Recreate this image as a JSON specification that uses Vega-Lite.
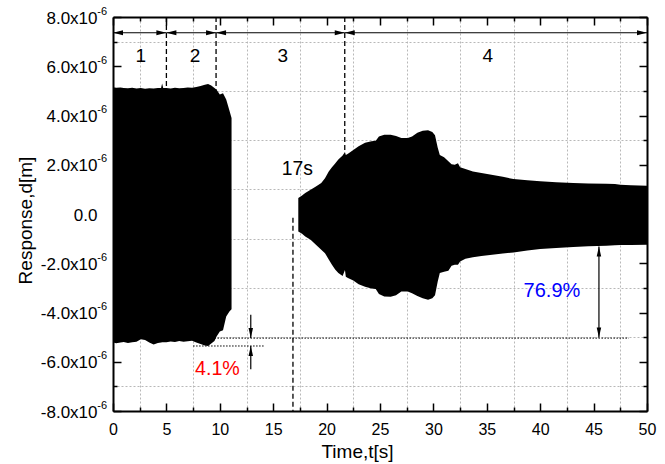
{
  "$schema": "https://vega.github.io/schema/vega-lite/v6.json",
  "width": 534,
  "height": 394,
  "autosize": {"type": "none"},
  "padding": {"left": 113, "top": 17, "right": 18, "bottom": 53},
  "background": "white",
  "config": {
    "view": {"stroke": null},
    "font": "Liberation Sans",
    "axis": {
      "domainColor": "black",
      "domainWidth": 2,
      "tickColor": "black",
      "tickWidth": 1.5,
      "labelColor": "black",
      "labelFont": "Liberation Sans",
      "titleFont": "Liberation Sans",
      "titleFontWeight": "normal",
      "titleColor": "black",
      "labelOverlap": false,
      "labelFlush": false,
      "gridColor": "#b8b8b8",
      "gridDash": [2, 2],
      "gridWidth": 1
    }
  },
  "datasets": {
    "envelope": [
      {"t": 0.0, "upper": 5.15e-6, "lower": -5.22e-6, "burst": "A"},
      {"t": 0.3, "upper": 5.13e-6, "lower": -5.25e-6, "burst": "A"},
      {"t": 0.7, "upper": 5.14e-6, "lower": -5.22e-6, "burst": "A"},
      {"t": 1.0, "upper": 5.12e-6, "lower": -5.2e-6, "burst": "A"},
      {"t": 1.4, "upper": 5.11e-6, "lower": -5.24e-6, "burst": "A"},
      {"t": 1.8, "upper": 5.13e-6, "lower": -5.21e-6, "burst": "A"},
      {"t": 2.2, "upper": 5.1e-6, "lower": -5.19e-6, "burst": "A"},
      {"t": 2.6, "upper": 5.12e-6, "lower": -5.09e-6, "burst": "A"},
      {"t": 3.0, "upper": 5.09e-6, "lower": -5.12e-6, "burst": "A"},
      {"t": 3.4, "upper": 5.11e-6, "lower": -5.22e-6, "burst": "A"},
      {"t": 3.8, "upper": 5.1e-6, "lower": -5.3e-6, "burst": "A"},
      {"t": 4.2, "upper": 5.12e-6, "lower": -5.24e-6, "burst": "A"},
      {"t": 4.5, "upper": 5.12e-6, "lower": -5.22e-6, "burst": "A"},
      {"t": 4.6, "upper": 5.3e-6, "lower": -5.21e-6, "burst": "A"},
      {"t": 4.7, "upper": 5.12e-6, "lower": -5.21e-6, "burst": "A"},
      {"t": 5.0, "upper": 5.12e-6, "lower": -5.21e-6, "burst": "A"},
      {"t": 5.4, "upper": 5.1e-6, "lower": -5.18e-6, "burst": "A"},
      {"t": 5.8, "upper": 5.13e-6, "lower": -5.2e-6, "burst": "A"},
      {"t": 6.2, "upper": 5.11e-6, "lower": -5.16e-6, "burst": "A"},
      {"t": 6.6, "upper": 5.12e-6, "lower": -5.19e-6, "burst": "A"},
      {"t": 7.0, "upper": 5.14e-6, "lower": -5.17e-6, "burst": "A"},
      {"t": 7.4, "upper": 5.13e-6, "lower": -5.15e-6, "burst": "A"},
      {"t": 7.8, "upper": 5.16e-6, "lower": -5.22e-6, "burst": "A"},
      {"t": 8.2, "upper": 5.2e-6, "lower": -5.28e-6, "burst": "A"},
      {"t": 8.6, "upper": 5.25e-6, "lower": -5.34e-6, "burst": "A"},
      {"t": 8.9, "upper": 5.28e-6, "lower": -5.36e-6, "burst": "A"},
      {"t": 9.2, "upper": 5.22e-6, "lower": -5.26e-6, "burst": "A"},
      {"t": 9.5, "upper": 5.12e-6, "lower": -5.16e-6, "burst": "A"},
      {"t": 9.7, "upper": 5.05e-6, "lower": -4.97e-6, "burst": "A"},
      {"t": 10.0, "upper": 4.85e-6, "lower": -4.77e-6, "burst": "A"},
      {"t": 10.3, "upper": 4.9e-6, "lower": -4.72e-6, "burst": "A"},
      {"t": 10.6, "upper": 4.65e-6, "lower": -4.16e-6, "burst": "A"},
      {"t": 10.9, "upper": 4.2e-6, "lower": -3.96e-6, "burst": "A"},
      {"t": 11.1, "upper": 3.9e-6, "lower": -3.87e-6, "burst": "A"},
      {"t": 17.35, "upper": 0.65e-6, "lower": -0.71e-6, "burst": "B"},
      {"t": 17.7, "upper": 0.75e-6, "lower": -0.8e-6, "burst": "B"},
      {"t": 18.0, "upper": 0.85e-6, "lower": -0.91e-6, "burst": "B"},
      {"t": 18.5, "upper": 0.98e-6, "lower": -1.05e-6, "burst": "B"},
      {"t": 19.0, "upper": 1.12e-6, "lower": -1.25e-6, "burst": "B"},
      {"t": 19.5, "upper": 1.26e-6, "lower": -1.45e-6, "burst": "B"},
      {"t": 19.85, "upper": 1.45e-6, "lower": -1.59e-6, "burst": "B"},
      {"t": 20.2, "upper": 1.73e-6, "lower": -1.85e-6, "burst": "B"},
      {"t": 20.5, "upper": 1.9e-6, "lower": -2.06e-6, "burst": "B"},
      {"t": 20.8, "upper": 2.05e-6, "lower": -2.25e-6, "burst": "B"},
      {"t": 21.1, "upper": 2.21e-6, "lower": -2.4e-6, "burst": "B"},
      {"t": 21.5, "upper": 2.38e-6, "lower": -2.52e-6, "burst": "B"},
      {"t": 21.72, "upper": 2.52e-6, "lower": -2.27e-6, "burst": "B"},
      {"t": 21.8, "upper": 2.4e-6, "lower": -2.55e-6, "burst": "B"},
      {"t": 22.0, "upper": 2.45e-6, "lower": -2.6e-6, "burst": "B"},
      {"t": 22.5, "upper": 2.6e-6, "lower": -2.7e-6, "burst": "B"},
      {"t": 23.0, "upper": 2.75e-6, "lower": -2.85e-6, "burst": "B"},
      {"t": 23.6, "upper": 2.89e-6, "lower": -2.95e-6, "burst": "B"},
      {"t": 24.2, "upper": 2.95e-6, "lower": -3.03e-6, "burst": "B"},
      {"t": 24.6, "upper": 2.97e-6, "lower": -3.05e-6, "burst": "B"},
      {"t": 24.9, "upper": 3.15e-6, "lower": -3.25e-6, "burst": "B"},
      {"t": 25.4, "upper": 3.22e-6, "lower": -3.35e-6, "burst": "B"},
      {"t": 26.0, "upper": 3.22e-6, "lower": -3.36e-6, "burst": "B"},
      {"t": 26.5, "upper": 3.17e-6, "lower": -3.3e-6, "burst": "B"},
      {"t": 27.0, "upper": 3.09e-6, "lower": -3.15e-6, "burst": "B"},
      {"t": 27.6, "upper": 3.09e-6, "lower": -3.15e-6, "burst": "B"},
      {"t": 28.0, "upper": 3.15e-6, "lower": -3.22e-6, "burst": "B"},
      {"t": 28.5, "upper": 3.3e-6, "lower": -3.33e-6, "burst": "B"},
      {"t": 29.0, "upper": 3.38e-6, "lower": -3.42e-6, "burst": "B"},
      {"t": 29.5, "upper": 3.4e-6, "lower": -3.48e-6, "burst": "B"},
      {"t": 29.9, "upper": 3.33e-6, "lower": -3.42e-6, "burst": "B"},
      {"t": 30.15, "upper": 3.2e-6, "lower": -3.3e-6, "burst": "B"},
      {"t": 30.4, "upper": 2.7e-6, "lower": -2.75e-6, "burst": "B"},
      {"t": 30.6, "upper": 2.4e-6, "lower": -2.4e-6, "burst": "B"},
      {"t": 31.0, "upper": 2.3e-6, "lower": -2.35e-6, "burst": "B"},
      {"t": 31.4, "upper": 2.14e-6, "lower": -2.3e-6, "burst": "B"},
      {"t": 31.7, "upper": 2.02e-6, "lower": -2.1e-6, "burst": "B"},
      {"t": 32.0, "upper": 2.0e-6, "lower": -2.06e-6, "burst": "B"},
      {"t": 32.3, "upper": 2.06e-6, "lower": -2.06e-6, "burst": "B"},
      {"t": 32.5, "upper": 1.9e-6, "lower": -1.93e-6, "burst": "B"},
      {"t": 33.0, "upper": 1.83e-6, "lower": -1.82e-6, "burst": "B"},
      {"t": 33.7, "upper": 1.73e-6, "lower": -1.76e-6, "burst": "B"},
      {"t": 34.5, "upper": 1.67e-6, "lower": -1.71e-6, "burst": "B"},
      {"t": 35.3, "upper": 1.6e-6, "lower": -1.66e-6, "burst": "B"},
      {"t": 36.5, "upper": 1.51e-6, "lower": -1.6e-6, "burst": "B"},
      {"t": 37.5, "upper": 1.42e-6, "lower": -1.56e-6, "burst": "B"},
      {"t": 38.8, "upper": 1.37e-6, "lower": -1.48e-6, "burst": "B"},
      {"t": 40.0, "upper": 1.33e-6, "lower": -1.42e-6, "burst": "B"},
      {"t": 41.5, "upper": 1.29e-6, "lower": -1.38e-6, "burst": "B"},
      {"t": 43.1, "upper": 1.26e-6, "lower": -1.34e-6, "burst": "B"},
      {"t": 44.5, "upper": 1.24e-6, "lower": -1.31e-6, "burst": "B"},
      {"t": 46.2, "upper": 1.23e-6, "lower": -1.29e-6, "burst": "B"},
      {"t": 47.0, "upper": 1.22e-6, "lower": -1.27e-6, "burst": "B"},
      {"t": 47.5, "upper": 1.19e-6, "lower": -1.26e-6, "burst": "B"},
      {"t": 48.5, "upper": 1.17e-6, "lower": -1.26e-6, "burst": "B"},
      {"t": 50.0, "upper": 1.15e-6, "lower": -1.25e-6, "burst": "B"}
    ],
    "levels": [
      {"t0": 9.5, "t1": 48.3, "v": -5.04e-6},
      {"t0": 7.5, "t1": 14.2, "v": -5.36e-6}
    ],
    "boundaries": [
      {"t": 5.0, "v0": 8e-6, "v1": 5.12e-6},
      {"t": 9.65, "v0": 8e-6, "v1": 5.05e-6},
      {"t": 21.7, "v0": 8e-6, "v1": 2.5e-6},
      {"t": 16.85, "v0": -0.15e-6, "v1": -8e-6}
    ],
    "phases": [
      {"t0": 0, "t1": 5.0, "v": 7.36e-6},
      {"t0": 5.0, "t1": 9.65, "v": 7.36e-6},
      {"t0": 9.65, "t1": 21.7, "v": 7.36e-6},
      {"t0": 21.7, "t1": 50, "v": 7.36e-6}
    ],
    "shafts": [
      {"t": 12.9, "v0": -4.09e-6, "v1": -5.04e-6},
      {"t": 12.9, "v0": -6.3e-6, "v1": -5.36e-6},
      {"t": 45.5, "v0": -1.32e-6, "v1": -5.02e-6}
    ],
    "heads": [
      {"t": 0, "v": 7.36e-6, "dir": "left"},
      {"t": 5.0, "v": 7.36e-6, "dir": "right"},
      {"t": 5.0, "v": 7.36e-6, "dir": "left"},
      {"t": 9.65, "v": 7.36e-6, "dir": "right"},
      {"t": 9.65, "v": 7.36e-6, "dir": "left"},
      {"t": 21.7, "v": 7.36e-6, "dir": "right"},
      {"t": 21.7, "v": 7.36e-6, "dir": "left"},
      {"t": 50, "v": 7.36e-6, "dir": "right"},
      {"t": 12.9, "v": -5.04e-6, "dir": "down"},
      {"t": 12.9, "v": -5.36e-6, "dir": "up"},
      {"t": 45.5, "v": -1.32e-6, "dir": "up"},
      {"t": 45.5, "v": -5.02e-6, "dir": "down"}
    ],
    "notes": [
      {"t": 2.6, "v": 6.42e-6, "text": "1", "kind": "phase"},
      {"t": 7.68, "v": 6.42e-6, "text": "2", "kind": "phase"},
      {"t": 15.9, "v": 6.42e-6, "text": "3", "kind": "phase"},
      {"t": 35.1, "v": 6.42e-6, "text": "4", "kind": "phase"},
      {"t": 17.27, "v": 1.84e-6, "text": "17s", "kind": "time"},
      {"t": 9.78, "v": -6.29e-6, "text": "4.1%", "kind": "drop"},
      {"t": 41.1, "v": -3.11e-6, "text": "76.9%", "kind": "recovery"}
    ]
  },
  "resolve": {"axis": {"x": "independent", "y": "independent"}},
  "layer": [
    {
      "data": {"name": "envelope"},
      "mark": {"type": "area", "color": "black"},
      "encoding": {
        "x": {
          "field": "t", "type": "quantitative",
          "scale": {"domain": [0, 50], "nice": false, "zero": false},
          "axis": {
            "orient": "bottom",
            "values": [0, 2.5, 5, 7.5, 10, 12.5, 15, 17.5, 20, 22.5, 25, 27.5, 30, 32.5, 35, 37.5, 40, 42.5, 45, 47.5, 50],
            "tickSize": {"condition": {"test": "datum.value % 5 === 0", "value": -8}, "value": -4},
            "labelExpr": "datum.value % 5 === 0 ? format(datum.value, 'd') : ''",
            "labelFontSize": 16,
            "labelPadding": 18,
            "grid": true,
            "gridOpacity": {"condition": {"test": "datum.value % 5 === 0", "value": 0}, "value": 1},
            "title": "Time,t[s]",
            "titleFontSize": 19,
            "titleX": 244,
            "titleY": 46.5,
            "titleAlign": "center",
            "titleBaseline": "alphabetic"
          }
        },
        "y": {
          "field": "upper", "type": "quantitative",
          "scale": {"domain": [-8e-6, 8e-6], "nice": false, "zero": false},
          "axis": {
            "orient": "left",
            "values": [-8e-6, -7e-6, -6e-6, -5e-6, -4e-6, -3e-6, -2e-6, -1e-6, 0, 1e-6, 2e-6, 3e-6, 4e-6, 5e-6, 6e-6, 7e-6, 8e-6],
            "tickSize": {"condition": {"test": "round(datum.value * 1e6) % 2 === 0", "value": -8}, "value": -4},
            "labelExpr": "round(datum.value * 1e6) % 2 !== 0 ? '' : (round(datum.value * 1e6) === 0 ? '0.0' : (datum.value < 0 ? '-' : '') + format(abs(datum.value * 1e6), '.1f') + 'x10')",
            "labelFontSize": 17,
            "labelPadding": 24,
            "labelOffset": 1,
            "grid": true,
            "gridOpacity": {"condition": {"test": "round(datum.value * 1e6) % 2 === 0", "value": 0}, "value": 1},
            "title": "Response,d[m]",
            "titleFontSize": 19,
            "titleAngle": 270,
            "titleX": -81.5,
            "titleY": 203,
            "titleAlign": "center",
            "titleBaseline": "alphabetic"
          }
        },
        "y2": {"field": "lower"},
        "detail": {"field": "burst"}
      }
    },
    {
      "data": {"name": "levels"},
      "mark": {"type": "rule", "color": "black", "strokeWidth": 1, "strokeDash": [1.5, 1.5]},
      "encoding": {
        "x": {
          "field": "t0", "type": "quantitative",
          "scale": {"domain": [0, 50], "nice": false, "zero": false},
          "axis": {
            "orient": "top",
            "values": [0, 2.5, 5, 7.5, 10, 12.5, 15, 17.5, 20, 22.5, 25, 27.5, 30, 32.5, 35, 37.5, 40, 42.5, 45, 47.5, 50],
            "tickSize": {"condition": {"test": "datum.value % 5 === 0", "value": -8}, "value": -4},
            "labels": false,
            "grid": false,
            "title": null
          }
        },
        "x2": {"field": "t1"},
        "y": {
          "field": "v", "type": "quantitative",
          "scale": {"domain": [-8e-6, 8e-6], "nice": false, "zero": false},
          "axis": {
            "orient": "right",
            "values": [-8e-6, -7e-6, -6e-6, -5e-6, -4e-6, -3e-6, -2e-6, -1e-6, 0, 1e-6, 2e-6, 3e-6, 4e-6, 5e-6, 6e-6, 7e-6, 8e-6],
            "tickSize": {"condition": {"test": "round(datum.value * 1e6) % 2 === 0", "value": -8}, "value": -4},
            "labels": false,
            "grid": false,
            "title": null
          }
        }
      }
    },
    {
      "data": {"name": "boundaries"},
      "mark": {"type": "rule", "color": "black", "strokeWidth": 1.3, "strokeDash": [5, 3]},
      "encoding": {
        "x": {"field": "t", "type": "quantitative", "scale": {"domain": [0, 50], "nice": false, "zero": false}, "axis": null},
        "y": {"field": "v0", "type": "quantitative", "scale": {"domain": [-8e-6, 8e-6], "nice": false, "zero": false}, "axis": null},
        "y2": {"field": "v1"}
      }
    },
    {
      "data": {"name": "phases"},
      "mark": {"type": "rule", "color": "black", "strokeWidth": 1.2},
      "encoding": {
        "x": {"field": "t0", "type": "quantitative", "scale": {"domain": [0, 50], "nice": false, "zero": false}, "axis": null},
        "x2": {"field": "t1"},
        "y": {"field": "v", "type": "quantitative", "scale": {"domain": [-8e-6, 8e-6], "nice": false, "zero": false}, "axis": null}
      }
    },
    {
      "data": {"name": "shafts"},
      "mark": {"type": "rule", "color": "black", "strokeWidth": 1.2},
      "encoding": {
        "x": {"field": "t", "type": "quantitative", "scale": {"domain": [0, 50], "nice": false, "zero": false}, "axis": null},
        "y": {"field": "v0", "type": "quantitative", "scale": {"domain": [-8e-6, 8e-6], "nice": false, "zero": false}, "axis": null},
        "y2": {"field": "v1"}
      }
    },
    {
      "data": {"name": "heads"},
      "mark": {"type": "point", "filled": true, "color": "black", "opacity": 1, "size": 100, "strokeWidth": 0},
      "encoding": {
        "x": {"field": "t", "type": "quantitative", "scale": {"domain": [0, 50], "nice": false, "zero": false}, "axis": null},
        "y": {"field": "v", "type": "quantitative", "scale": {"domain": [-8e-6, 8e-6], "nice": false, "zero": false}, "axis": null},
        "shape": {
          "field": "dir", "type": "nominal", "legend": null,
          "scale": {
            "domain": ["left", "right", "up", "down"],
            "range": ["M0,0L2,-0.5L2,0.5Z", "M0,0L-2,-0.5L-2,0.5Z", "M0,0L-0.45,2L0.45,2Z", "M0,0L-0.45,-2L0.45,-2Z"]
          }
        }
      }
    },
    {
      "data": {"name": "notes"},
      "mark": {"type": "text", "font": "Liberation Sans", "align": "center", "baseline": "middle"},
      "encoding": {
        "x": {"field": "t", "type": "quantitative", "scale": {"domain": [0, 50], "nice": false, "zero": false}, "axis": null},
        "y": {
          "field": "v", "type": "quantitative",
          "scale": {"domain": [-8e-6, 8e-6], "nice": false, "zero": false},
          "axis": {
            "orient": "left",
            "values": [-8e-6, -6e-6, -4e-6, -2e-6, 2e-6, 4e-6, 6e-6, 8e-6],
            "ticks": false,
            "domain": false,
            "grid": false,
            "labelExpr": "'-6'",
            "labelFontSize": 11,
            "labelPadding": 6.5,
            "labelOffset": -6,
            "title": null
          }
        },
        "text": {"field": "text"},
        "color": {
          "field": "kind", "type": "nominal", "legend": null,
          "scale": {"domain": ["phase", "time", "drop", "recovery"], "range": ["black", "black", "#ff0000", "#0000ff"]}
        },
        "size": {
          "field": "kind", "type": "ordinal", "legend": null,
          "scale": {"domain": ["phase", "time", "drop", "recovery"], "range": [19, 20, 21, 21]}
        }
      }
    }
  ]
}
